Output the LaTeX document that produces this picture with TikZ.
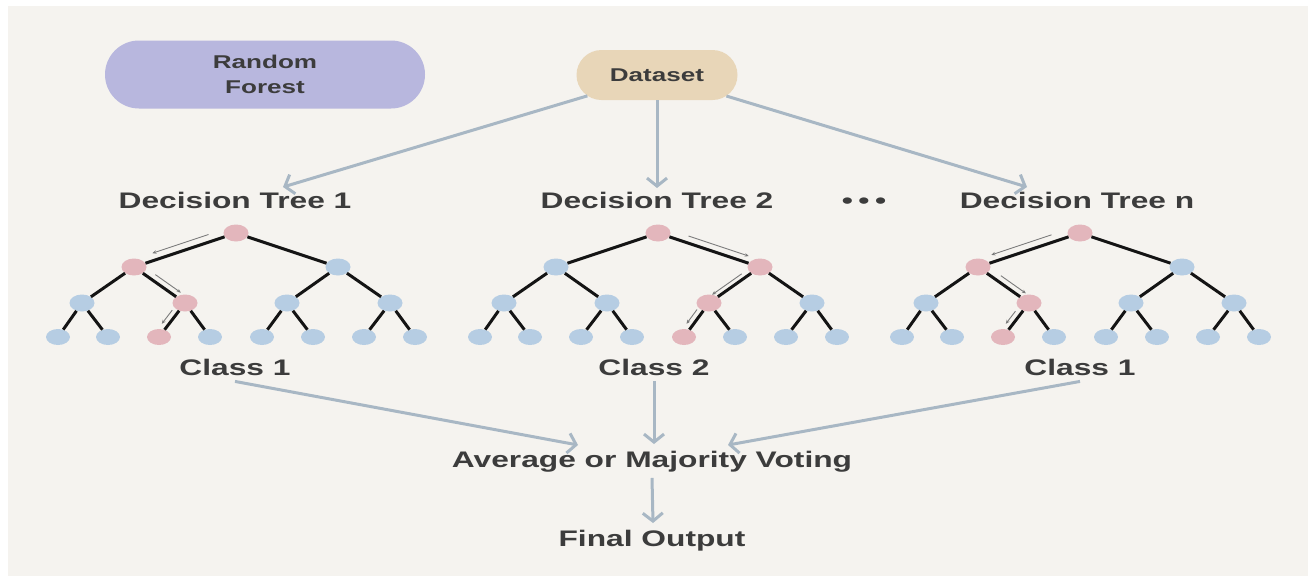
\documentclass[tikz,border=0pt]{standalone}
\usepackage{fontspec}
\newfontfamily\labfont{Liberation Sans}[FakeStretch=1.41]
\usetikzlibrary{arrows.meta,shapes.geometric,shapes.misc,calc}
\definecolor{bgc}{HTML}{F5F3EF}
\definecolor{lav}{HTML}{B8B7DE}
\definecolor{tan}{HTML}{E8D6B8}
\definecolor{arr}{HTML}{A8B7C4}
\definecolor{nblue}{HTML}{B6CDE3}
\definecolor{npink}{HTML}{E3B6BC}
\definecolor{txt}{HTML}{3C3C3C}
\definecolor{thin}{HTML}{7A7A7A}
\tikzset{
  lbl/.style={font=\labfont\bfseries\fontsize{22.5}{27}\selectfont, text=txt, inner xsep=0pt, inner ysep=6pt, anchor=base},
  smalltxt/.style={font=\labfont\bfseries\fontsize{18.5}{25}\selectfont, text=txt, inner sep=0pt, align=center},
  pill/.style={rounded rectangle, rounded rectangle arc length=180},
  flow/.style={draw=arr, line width=3pt, -{Straight Barb[length=8pt,width=20pt]}},
  tnode/.style={ellipse, minimum width=25pt, minimum height=17pt, inner sep=0pt},
  tedge/.style={line width=3pt, draw=black!92},
  pa/.style={draw=thin, line width=0.9pt, -{Stealth[length=4pt,width=3.5pt]}}
}
\newcommand\rftree[5]{%
  \node[tnode, fill=npink] (#1r) at (#2,233) {};
  \foreach \i/\dx in {1/-102,2/102}{%
    \ifnum\i=#3\relax\def\fc{npink}\else\def\fc{nblue}\fi
    \node[tnode, fill=\fc] (#1a\i) at (#2+\dx,267) {};
    \draw[tedge] (#1r) -- (#1a\i);
  }
  \foreach \i/\dx/\p in {1/-154/1,2/-51/1,3/51/2,4/154/2}{%
    \ifnum\i=#4\relax\def\fc{npink}\else\def\fc{nblue}\fi
    \node[tnode, fill=\fc] (#1b\i) at (#2+\dx,303) {};
    \draw[tedge] (#1a\p) -- (#1b\i);
  }
  \foreach \i/\dx/\p in {1/-178/1,2/-128/1,3/-77/2,4/-26/2,5/26/3,6/77/3,7/128/4,8/179/4}{%
    \ifnum\i=#5\relax\def\fc{npink}\else\def\fc{nblue}\fi
    \node[tnode, fill=\fc, minimum width=24pt, minimum height=16pt] (#1c\i) at (#2+\dx,337) {};
    \draw[tedge] (#1b\p) -- (#1c\i);
  }
}
\begin{document}
\begin{tikzpicture}[x=1pt,y=-1pt]
\useasboundingbox (0,0) rectangle (1308,579);
\fill[white] (0,0) rectangle (1308,579);
\fill[bgc] (8,6) rectangle (1308,576);

% top boxes
\node[smalltxt, pill, fill=lav, minimum width=320pt, minimum height=68pt] (rf) at (265,74.5) {Random\\Forest};
\node[smalltxt, pill, fill=tan, minimum width=161pt, minimum height=50pt] (ds) at (657,75) {Dataset};

% headings
\node[lbl] (dt1) at (235,208) {Decision Tree 1};
\node[lbl] (dt2) at (657,208) {Decision Tree 2};
\node[lbl] (dtn) at (1077,208) {Decision Tree n};
\node[lbl] (dots) at (864,208) {•\hspace{5.5pt}•\hspace{5.5pt}•};

\coordinate (h1) at (283,187);
\coordinate (h2) at (657,188);
\coordinate (hn) at (1027,187);
\draw[flow] (ds) -- (h1);
\draw[flow] (ds) -- (h2);
\draw[flow] (ds) -- (hn);

% trees
\rftree{ta}{236}{1}{2}{3}
\rftree{tb}{658}{2}{3}{5}
\rftree{tc}{1080}{1}{2}{3}

% highlighted paths
\draw[pa] ($(tar)!0.25!(taa1)+(-2,-7)$) -- ($(tar)!0.80!(taa1)+(-2,-7)$);
\draw[pa] ($(taa1)!0.35!(tab2)+(3.5,-5)$) -- ($(taa1)!0.85!(tab2)+(3.5,-5)$);
\draw[pa] ($(tab2)!0.30!(tac3)+(-5,-3)$) -- ($(tab2)!0.70!(tac3)+(-5,-3)$);

\draw[pa] ($(tbr)!0.28!(tba2)+(2,-6.5)$) -- ($(tbr)!0.87!(tba2)+(2,-6.5)$);
\draw[pa] ($(tba2)!0.30!(tbb3)+(-3,-4)$) -- ($(tba2)!0.88!(tbb3)+(-3,-4)$);
\draw[pa] ($(tbb3)!0.28!(tbc5)+(-5,-3)$) -- ($(tbb3)!0.70!(tbc5)+(-5,-3)$);

\draw[pa] ($(tcr)!0.26!(tca1)+(-2,-7)$) -- ($(tcr)!0.85!(tca1)+(-2,-7)$);
\draw[pa] ($(tca1)!0.38!(tcb2)+(3.5,-5)$) -- ($(tca1)!0.87!(tcb2)+(3.5,-5)$);
\draw[pa] ($(tcb2)!0.33!(tcc3)+(-5,-3)$) -- ($(tcb2)!0.70!(tcc3)+(-5,-3)$);

% classes
\node[lbl] (c1) at (235,375) {Class 1};
\node[lbl] (c2) at (654,375) {Class 2};
\node[lbl] (c3) at (1080,375) {Class 1};

\node[lbl] (vote) at (652,467) {Average or Majority Voting};
\node[lbl] (fo) at (652,546) {Final Output};

\coordinate (v1) at (578,445);
\coordinate (v2) at (654,444);
\coordinate (v3) at (728,445);
\coordinate (f1) at (653,523);
\draw[flow] (c1.south) -- (v1);
\draw[flow] (c2.south) -- (v2);
\draw[flow] (c3.south) -- (v3);
\draw[flow] (vote.south) -- (f1);
\end{tikzpicture}
\end{document}
